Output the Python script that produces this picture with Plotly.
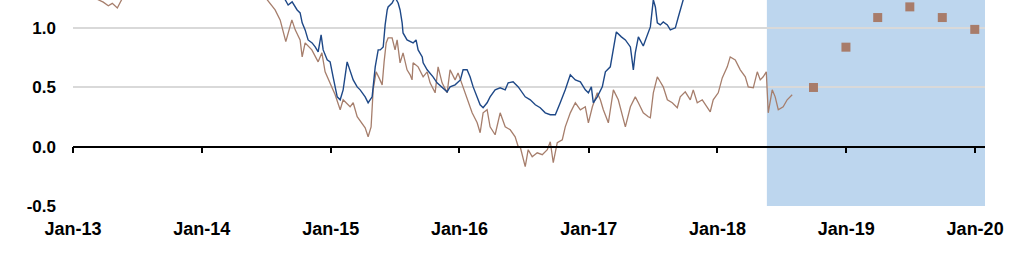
import pandas as pd
import plotly.graph_objects as go

# ---- data (dates as decimal years) ----
brown_t = [2013.00, 2013.119, 2013.235, 2013.274, 2013.305, 2013.344, 2013.382, 2013.60, 2014.00, 2014.30, 2014.45,
           2014.505, 2014.569, 2014.608, 2014.631, 2014.652, 2014.699, 2014.725, 2014.763, 2014.779, 2014.802,
           2014.854, 2014.903, 2014.932, 2014.957, 2014.996, 2015.035, 2015.074, 2015.097, 2015.151, 2015.175,
           2015.206, 2015.244, 2015.268, 2015.291, 2015.314, 2015.330, 2015.353, 2015.376, 2015.400, 2015.415,
           2015.431, 2015.446, 2015.477, 2015.500, 2015.516, 2015.539, 2015.562, 2015.593, 2015.617, 2015.632,
           2015.640, 2015.679, 2015.718, 2015.749, 2015.772, 2015.811, 2015.834, 2015.865, 2015.904, 2015.927,
           2015.966, 2015.989, 2016.028, 2016.067, 2016.098, 2016.137, 2016.160, 2016.183, 2016.214, 2016.237,
           2016.276, 2016.315, 2016.354, 2016.393, 2016.431, 2016.455, 2016.470, 2016.509, 2016.532, 2016.563,
           2016.602, 2016.641, 2016.680, 2016.703, 2016.726, 2016.757, 2016.796, 2016.819, 2016.858, 2016.897,
           2016.936, 2016.974, 2016.998, 2017.029, 2017.067, 2017.091, 2017.114, 2017.153, 2017.192, 2017.230,
           2017.285, 2017.324, 2017.362, 2017.386, 2017.424, 2017.463, 2017.479, 2017.502, 2017.533, 2017.556,
           2017.579, 2017.611, 2017.649, 2017.688, 2017.711, 2017.750, 2017.789, 2017.812, 2017.843, 2017.882,
           2017.921, 2017.944, 2017.967, 2018.006, 2018.037, 2018.076, 2018.099, 2018.138, 2018.177, 2018.216,
           2018.239, 2018.278, 2018.309, 2018.332, 2018.355, 2018.379, 2018.394, 2018.425, 2018.448, 2018.472,
           2018.510, 2018.541, 2018.580]
brown_v = [1.32, 1.28, 1.22, 1.19, 1.21, 1.17, 1.25, 1.36, 1.45, 1.40, 1.32,
           1.24, 1.154, 1.070, 0.986, 0.887, 1.070, 0.986, 0.901, 0.758, 0.876,
           0.817, 0.716, 0.792, 0.632, 0.539, 0.438, 0.312, 0.396, 0.337, 0.371,
           0.253, 0.202, 0.160, 0.084, 0.168, 0.480, 0.632, 0.581, 0.522, 0.716,
           0.876, 0.918, 0.918, 0.817, 0.901, 0.708, 0.792, 0.649, 0.607, 0.564,
           0.708, 0.674, 0.590, 0.632, 0.539, 0.455, 0.674, 0.539, 0.455, 0.649,
           0.564, 0.623, 0.505, 0.371, 0.286, 0.202, 0.118, 0.286, 0.312, 0.168,
           0.101, 0.286, 0.168, 0.143, 0.084, 0.000, 0.000, -0.168, -0.025, -0.084,
           -0.051, -0.067, -0.025, 0.042, -0.135, 0.034, 0.059, 0.168, 0.286, 0.371,
           0.312, 0.337, 0.202, 0.337, 0.455, 0.396, 0.312, 0.202, 0.480, 0.396,
           0.168, 0.337, 0.421, 0.371, 0.286, 0.253, 0.244, 0.455, 0.590, 0.548,
           0.505, 0.396, 0.371, 0.329, 0.421, 0.463, 0.396, 0.480, 0.371, 0.396,
           0.337, 0.295, 0.396, 0.455, 0.581, 0.674, 0.758, 0.733, 0.649, 0.590,
           0.505, 0.497, 0.632, 0.564, 0.590, 0.632, 0.286, 0.480, 0.421, 0.312,
           0.337, 0.396, 0.438]

blue_t = [2014.531, 2014.647, 2014.670, 2014.701, 2014.740, 2014.763, 2014.779, 2014.802, 2014.825, 2014.856,
          2014.880, 2014.903, 2014.926, 2014.942, 2014.973, 2014.996, 2015.019, 2015.035, 2015.051, 2015.074,
          2015.097, 2015.128, 2015.151, 2015.175, 2015.206, 2015.229, 2015.268, 2015.291, 2015.322, 2015.346,
          2015.369, 2015.385, 2015.408, 2015.423, 2015.439, 2015.446, 2015.477, 2015.500, 2015.524, 2015.539,
          2015.555, 2015.562, 2015.593, 2015.617, 2015.640, 2015.663, 2015.679, 2015.711, 2015.718, 2015.749,
          2015.772, 2015.795, 2015.826, 2015.865, 2015.904, 2015.927, 2015.966, 2016.007, 2016.028, 2016.059,
          2016.082, 2016.106, 2016.137, 2016.160, 2016.183, 2016.214, 2016.237, 2016.276, 2016.315, 2016.354,
          2016.377, 2016.415, 2016.455, 2016.470, 2016.509, 2016.548, 2016.587, 2016.625, 2016.664, 2016.703,
          2016.742, 2016.780, 2016.819, 2016.858, 2016.897, 2016.936, 2016.974, 2016.998, 2017.021, 2017.036,
          2017.067, 2017.106, 2017.130, 2017.168, 2017.192, 2017.215, 2017.254, 2017.285, 2017.324, 2017.347,
          2017.362, 2017.386, 2017.424, 2017.463, 2017.479, 2017.502, 2017.518, 2017.533, 2017.556, 2017.579,
          2017.611, 2017.634, 2017.673, 2017.696, 2017.727, 2017.750]
blue_v = [1.35, 1.24, 1.196, 1.222, 1.154, 1.129, 1.045, 0.986, 0.901, 0.876,
          0.842, 0.800, 0.944, 0.817, 0.733, 0.716, 0.590, 0.505, 0.421, 0.396,
          0.480, 0.716, 0.649, 0.564, 0.505, 0.480, 0.421, 0.371, 0.421, 0.674,
          0.817, 0.817, 0.842, 1.028, 1.154, 1.179, 1.213, 1.26, 1.213, 1.154,
          1.045, 0.960, 0.901, 0.885, 0.876, 0.901, 0.817, 0.758, 0.708, 0.649,
          0.623, 0.590, 0.539, 0.505, 0.463, 0.505, 0.522, 0.564, 0.649, 0.649,
          0.590, 0.505, 0.421, 0.354, 0.329, 0.371, 0.421, 0.480, 0.497, 0.480,
          0.539, 0.548, 0.505, 0.480, 0.421, 0.396, 0.354, 0.329, 0.286, 0.270,
          0.270, 0.371, 0.480, 0.607, 0.564, 0.548, 0.480, 0.455, 0.505, 0.371,
          0.421, 0.505, 0.632, 0.674, 0.842, 0.969, 0.927, 0.901, 0.842, 0.649,
          0.792, 0.927, 0.850, 0.969, 1.011, 1.24, 1.179, 1.045, 1.028, 1.053,
          1.028, 0.986, 1.003, 1.095, 1.213, 1.30]

forecast_dates = ["2018-09-30", "2018-12-31", "2019-03-31", "2019-06-30", "2019-09-30", "2019-12-31"]
forecast_vals = [0.50, 0.84, 1.09, 1.18, 1.09, 0.99]

tick_dates = ["2013-01-01", "2014-01-01", "2015-01-01", "2016-01-01",
              "2017-01-01", "2018-01-01", "2019-01-01", "2020-01-01"]
tick_labels = ["Jan-13", "Jan-14", "Jan-15", "Jan-16", "Jan-17", "Jan-18", "Jan-19", "Jan-20"]
y_ticks = [-0.5, 0.0, 0.5, 1.0]
y_labels = ["-0.5", "0.0", "0.5", "1.0"]

shade_start = "2018-05-21"
x_range = ["2013-01-01", "2020-01-29"]
y_range = [-0.5, 1.238]


def to_dates(ts):
    out = []
    for t in ts:
        yr = int(t)
        start = pd.Timestamp(year=yr, month=1, day=1)
        days = (pd.Timestamp(year=yr + 1, month=1, day=1) - start).days
        out.append(start + pd.Timedelta(days=(t - yr) * days))
    return out


BLUE = "rgb(30,72,135)"
BROWN = "rgb(166,126,108)"
FONT = "Liberation Sans"

fig = go.Figure()
fig.add_trace(go.Scatter(x=to_dates(brown_t), y=brown_v, mode="lines",
                         line=dict(color=BROWN, width=1.3), showlegend=False))
fig.add_trace(go.Scatter(x=to_dates(blue_t), y=blue_v, mode="lines",
                         line=dict(color=BLUE, width=1.4), showlegend=False))
fig.add_trace(go.Scatter(x=forecast_dates, y=forecast_vals, mode="markers", xaxis="x2",
                         marker=dict(symbol="square", size=9, color="rgb(168,124,106)"),
                         showlegend=False, cliponaxis=False))

fig.add_shape(type="rect", xref="x", yref="paper", x0=shade_start, x1=x_range[1], y0=0, y1=1,
              fillcolor="rgb(189,214,238)", line=dict(width=0), layer="below")

fig.update_layout(
    width=1024, height=275,
    margin=dict(l=73, r=39, t=0, b=69),
    paper_bgcolor="white", plot_bgcolor="white",
    font=dict(family=FONT, size=18, color="black"),
    xaxis=dict(type="date", range=x_range, tickvals=tick_dates, ticktext=tick_labels,
               showgrid=False, zeroline=False, showline=False, ticks="",
               tickfont=dict(family=FONT, size=18, color="black", weight="bold"),
               ticklabelstandoff=10),
    xaxis2=dict(type="date", range=x_range, overlaying="x", anchor="free", position=0.5 / 1.738,
                side="bottom", tickvals=tick_dates, showticklabels=False,
                showgrid=False, zeroline=False, showline=True, linecolor="black", linewidth=1.5,
                ticks="outside", ticklen=6, tickwidth=1.5, tickcolor="black"),
    yaxis=dict(range=y_range, tickvals=y_ticks, ticktext=y_labels,
               showgrid=True, gridcolor="rgb(217,217,217)", gridwidth=1.5,
               zeroline=False, showline=False, ticks="",
               tickfont=dict(family=FONT, size=17, color="black", weight="bold"),
               ticklabelstandoff=16),
)

fig.write_html("out.html")
